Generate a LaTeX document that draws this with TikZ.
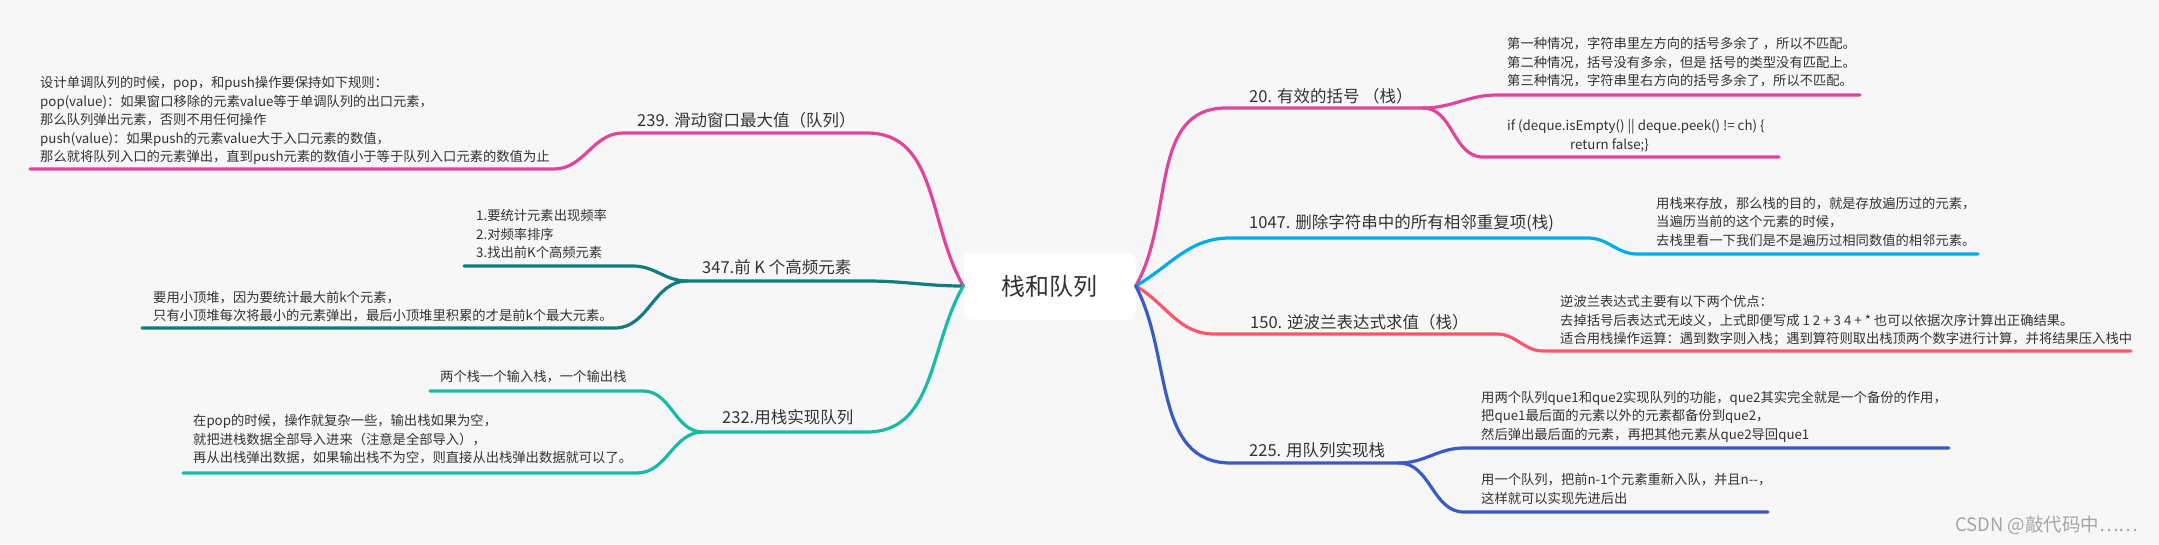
\documentclass[tikz,border=0pt]{standalone}
\usepackage{fontspec}
\setmainfont{Noto Sans CJK SC}
\usetikzlibrary{positioning}

\begin{document}
\begin{tikzpicture}[
    x=1pt, y=-1pt,
    % --- Styles ---
    root/.style={fill=white, rounded corners=8pt, minimum width=172pt, minimum height=67pt, inner sep=0pt, font=\fontsize{24}{28}\selectfont, text=txtDark},
    topic/.style={anchor=west, inner sep=0pt, font=\fontsize{16.5}{20}\selectfont, text=txtDark},
    note/.style={anchor=west, inner sep=0pt, align=left, font=\fontsize{13.3}{18.5}\selectfont, text=txtDark},
    branch/.style={line width=3.2pt, line cap=round},
    mark_text/.style={anchor=west, inner sep=0pt, font=\fontsize{18.5}{22}\selectfont, text=markGrey}
]

    % --- Colors ---
    \definecolor{bgGrey}{RGB}{247,247,247}   % Canvas
    \definecolor{txtDark}{RGB}{51,51,51}     % Text
    \definecolor{brPink}{RGB}{223,70,155}    % 20 / 239
    \definecolor{brSky}{RGB}{0,172,236}      % 1047
    \definecolor{brRed}{RGB}{252,86,108}     % 150
    \definecolor{brNavy}{RGB}{59,90,198}     % 225
    \definecolor{brTeal}{RGB}{18,125,128}    % 347
    \definecolor{brMint}{RGB}{24,186,168}    % 232
    \definecolor{markGrey}{RGB}{165,165,165} % Watermark

    \fill[bgGrey] (0,0) rectangle (2159,544);
    \useasboundingbox (0,0) rectangle (2159,544);

    % ==========================
    % 0. ROOT
    % ==========================
    \node[root] (root) at (1049.5, 286) {栈和队列};

    % ==========================
    % 1. RIGHT: 20. VALID PARENTHESES
    % ==========================
    \coordinate (k20a) at (1226,108);
    \coordinate (k20b) at (1423,108);
    \coordinate (k20c) at (1497,95);
    \coordinate (k20d) at (1860,95);
    \coordinate (k20e) at (1483,157);
    \coordinate (k20f) at (1779,157);

    \draw[branch, brPink] (root.east) to[out=60,in=180] (k20a) -- (k20b);
    \draw[branch, brPink] (k20b) to[out=0,in=180] (k20c) -- (k20d);
    \draw[branch, brPink] (k20b) to[out=0,in=180] (k20e) -- (k20f);

    \node[topic] (t20) at (1249, 96) {20. 有效的括号 （栈）};
    \node[note] (n20a) at (1507, 62.5) {第一种情况，字符串里左方向的括号多余了 ，所以不匹配。\\第二种情况，括号没有多余，但是 括号的类型没有匹配上。\\第三种情况，字符串里右方向的括号多余了，所以不匹配。};
    \node[note] (n20b) at (1507, 135.5) {if (deque.isEmpty() || deque.peek() != ch) \{\\\hspace*{63pt}return false;\}};

    % ==========================
    % 2. RIGHT: 1047. REMOVE DUPLICATES
    % ==========================
    \coordinate (k1047a) at (1230,238);
    \coordinate (k1047b) at (1588,238);
    \coordinate (k1047c) at (1637,254);
    \coordinate (k1047d) at (1978,254);

    \draw[branch, brSky] (root.east) to[out=30,in=180] (k1047a) -- (k1047b)
        to[out=0,in=180] (k1047c) -- (k1047d);

    \node[topic] (t1047) at (1249, 223) {1047. 删除字符串中的所有相邻重复项(栈)};
    \node[note] (n1047) at (1656, 221.5) {用栈来存放，那么栈的目的，就是存放遍历过的元素，\\当遍历当前的这个元素的时候，\\去栈里看一下我们是不是遍历过相同数值的相邻元素。};

    % ==========================
    % 3. RIGHT: 150. RPN
    % ==========================
    \coordinate (k150a) at (1214,334);
    \coordinate (k150b) at (1497,334);
    \coordinate (k150c) at (1543,351);
    \coordinate (k150d) at (2131,351);

    \draw[branch, brRed] (root.east) to[out=-30,in=180] (k150a) -- (k150b)
        to[out=0,in=180] (k150c) -- (k150d);

    \node[topic] (t150) at (1250, 322) {150. 逆波兰表达式求值（栈）};
    \node[note] (n150) at (1560, 320.5) {逆波兰表达式主要有以下两个优点：\\去掉括号后表达式无歧义，上式即便写成 1 2 + 3 4 + * 也可以依据次序计算出正确结果。\\适合用栈操作运算：遇到数字则入栈；遇到算符则取出栈顶两个数字进行计算，并将结果压入栈中};

    % ==========================
    % 4. RIGHT: 225. STACK FROM QUEUES
    % ==========================
    \coordinate (k225a) at (1231,463);
    \coordinate (k225b) at (1399,463);
    \coordinate (k225c) at (1464,448);
    \coordinate (k225d) at (1949,448);
    \coordinate (k225e) at (1464,512);
    \coordinate (k225f) at (1768,512);

    \draw[branch, brNavy] (root.east) to[out=-62,in=180] (k225a) -- (k225b);
    \draw[branch, brNavy] (k225b) to[out=0,in=180] (k225c) -- (k225d);
    \draw[branch, brNavy] (k225b) to[out=0,in=180] (k225e) -- (k225f);

    \node[topic] (t225) at (1249, 450) {225. 用队列实现栈};
    \node[note] (n225a) at (1481, 416.5) {用两个队列que1和que2实现队列的功能，que2其实完全就是一个备份的作用，\\把que1最后面的元素以外的元素都备份到que2，\\然后弹出最后面的元素，再把其他元素从que2导回que1};
    \node[note] (n225b) at (1481, 489) {用一个队列，把前n-1个元素重新入队，并且n-{}-，\\这样就可以实现先进后出};

    % ==========================
    % 5. LEFT: 239. SLIDING WINDOW MAX
    % ==========================
    \coordinate (k239a) at (867,133);
    \coordinate (k239b) at (623,133);
    \coordinate (k239c) at (554,169);
    \coordinate (k239d) at (30,169);

    \draw[branch, brPink] (root.west) to[out=120,in=0] (k239a) -- (k239b)
        to[out=180,in=0] (k239c) -- (k239d);

    \node[topic] (t239) at (637, 120) {239. 滑动窗口最大值（队列）};
    \node[note] (n239) at (40, 120.5) {设计单调队列的时候，pop，和push操作要保持如下规则：\\pop(value)：如果窗口移除的元素value等于单调队列的出口元素，\\那么队列弹出元素，否则不用任何操作\\push(value)：如果push的元素value大于入口元素的数值，\\那么就将队列入口的元素弹出，直到push元素的数值小于等于队列入口元素的数值为止};

    % ==========================
    % 6. LEFT: 347. TOP K FREQUENT
    % ==========================
    \coordinate (k347a) at (867,281);
    \coordinate (k347b) at (687,281);
    \coordinate (k347c) at (633,266);
    \coordinate (k347d) at (464,266);
    \coordinate (k347e) at (615,328);
    \coordinate (k347f) at (142,328);

    \draw[branch, brTeal] (root.west) to[out=180,in=0] (k347a) -- (k347b);
    \draw[branch, brTeal] (k347b) to[out=180,in=0] (k347c) -- (k347d);
    \draw[branch, brTeal] (k347b) to[out=180,in=0] (k347e) -- (k347f);

    \node[topic] (t347) at (702, 267) {347.前 K 个高频元素};
    \node[note] (n347a) at (476, 234) {1.要统计元素出现频率\\2.对频率排序\\3.找出前K个高频元素};
    \node[note] (n347b) at (153, 306.5) {要用小顶堆，因为要统计最大前k个元素，\\只有小顶堆每次将最小的元素弹出，最后小顶堆里积累的才是前k个最大元素。};

    % ==========================
    % 7. LEFT: 232. QUEUE FROM STACKS
    % ==========================
    \coordinate (k232a) at (867,432);
    \coordinate (k232b) at (703,432);
    \coordinate (k232c) at (643,391);
    \coordinate (k232d) at (430,391);
    \coordinate (k232e) at (637,473);
    \coordinate (k232f) at (183,473);

    \draw[branch, brMint] (root.west) to[out=240,in=0] (k232a) -- (k232b);
    \draw[branch, brMint] (k232b) to[out=180,in=0] (k232c) -- (k232d);
    \draw[branch, brMint] (k232b) to[out=180,in=0] (k232e) -- (k232f);

    \node[topic] (t232) at (722, 417) {232.用栈实现队列};
    \node[note] (n232a) at (440, 377) {两个栈一个输入栈，一个输出栈};
    \node[note] (n232b) at (193, 439.5) {在pop的时候，操作就复杂一些，输出栈如果为空，\\就把进栈数据全部导入进来（注意是全部导入），\\再从出栈弹出数据，如果输出栈不为空，则直接从出栈弹出数据就可以了。};

    % Watermark
    \node[mark_text] (mark) at (1955, 525) {CSDN @敲代码中……};

\end{tikzpicture}
\end{document}
